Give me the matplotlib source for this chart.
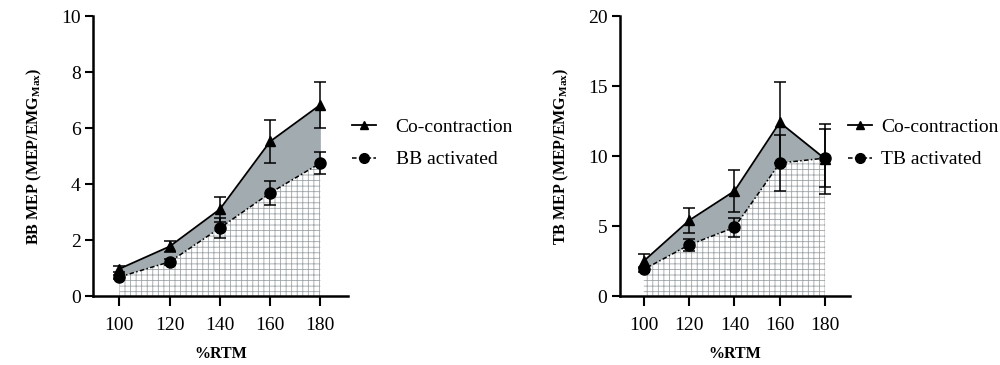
import matplotlib
matplotlib.use("Agg")
import matplotlib.pyplot as plt
from matplotlib.lines import Line2D
import numpy as np

plt.rcParams["font.family"] = ["Liberation Serif", "DejaVu Serif"]
plt.rcParams["mathtext.fontset"] = "custom"
plt.rcParams["mathtext.rm"] = "Liberation Serif"
plt.rcParams["mathtext.bf"] = "Liberation Serif:bold"
plt.rcParams["hatch.color"] = "#9ea4a8"
plt.rcParams["hatch.linewidth"] = 0.6

rtm = [100, 120, 140, 160, 180]

bb_co = [0.97, 1.77, 3.1, 5.52, 6.83]
bb_co_err = [0.1, 0.2, 0.45, 0.78, 0.82]
bb_act = [0.68, 1.22, 2.43, 3.68, 4.75]
bb_act_err = [0.07, 0.12, 0.37, 0.42, 0.39]

tb_co = [2.5, 5.4, 7.5, 12.4, 9.8]
tb_co_err = [0.5, 0.9, 1.5, 2.9, 2.5]
tb_act = [1.9, 3.65, 4.9, 9.5, 9.85]
tb_act_err = [0.2, 0.45, 0.7, 2.0, 2.05]

GREY = "#a2abaf"
DASH = (0, (3, 1.5, 1, 1.5))


def draw_panel(ax, co, co_err, act, act_err, ylim, yticks, ylabel):
    x = np.array(rtm)
    co = np.array(co)
    act = np.array(act)
    ax.fill_between(x, act, co, where=co >= act, interpolate=True,
                    color=GREY, linewidth=0, zorder=1)
    ax.fill_between(x, 0, act, facecolor="white", edgecolor="#9ea4a8",
                    hatch="+++", linewidth=0, zorder=1)
    ax.errorbar(x, co, yerr=co_err, color="black", marker="^", markersize=7,
                linewidth=1.3, elinewidth=1.1, capsize=4, capthick=1.1, zorder=3)
    ax.errorbar(x, act, yerr=act_err, color="black", marker="o", markersize=8,
                linestyle=DASH, linewidth=1.1, elinewidth=1.1,
                capsize=4, capthick=1.1, zorder=3)

    ax.set_xlim(89.5, 191)
    ax.set_ylim(*ylim)
    ax.set_xticks(rtm)
    ax.set_yticks(yticks)
    for s in ["top", "right"]:
        ax.spines[s].set_visible(False)
    for s in ["left", "bottom"]:
        ax.spines[s].set_linewidth(1.8)
    ax.tick_params(axis="both", width=1.5, labelsize=14)
    ax.tick_params(axis="x", length=7, pad=8)
    ax.tick_params(axis="y", length=6, pad=3)
    ax.set_xlabel("%RTM", fontsize=11.5, fontweight="bold", labelpad=9)
    ax.set_ylabel(ylabel, fontsize=11.5, fontweight="bold", labelpad=12)


def add_legend(fig, x0, act_label, textpad):
    handles = [
        Line2D([], [], color="black", marker="^", markersize=6, linewidth=1.3),
        Line2D([], [], color="black", marker="o", markersize=7,
               linestyle=DASH, linewidth=1.1),
    ]
    fig.legend(handles, ["Co-contraction", act_label], loc="upper left",
               bbox_to_anchor=(x0, 1 - 118 / 365), frameon=False, fontsize=14,
               handlelength=1.25, handletextpad=textpad, labelspacing=0.78,
               borderpad=0, borderaxespad=0)


fig = plt.figure(figsize=(10, 3.65), dpi=100)
ax1 = fig.add_axes([0.093, 0.189, 0.255, 0.767])
ax2 = fig.add_axes([0.62, 0.189, 0.23, 0.767])

draw_panel(ax1, bb_co, bb_co_err, bb_act, bb_act_err, (0, 10),
           [0, 2, 4, 6, 8, 10], r"BB MEP (MEP/EMG$_{\mathbf{Max}}$)")
draw_panel(ax2, tb_co, tb_co_err, tb_act, tb_act_err, (0, 20),
           [0, 5, 10, 15, 20], r"TB MEP (MEP/EMG$_{\mathbf{Max}}$)")

add_legend(fig, 0.352, "BB activated", 1.0)
add_legend(fig, 0.848, "TB activated", 0.45)

fig.savefig("out.png", dpi=100)
